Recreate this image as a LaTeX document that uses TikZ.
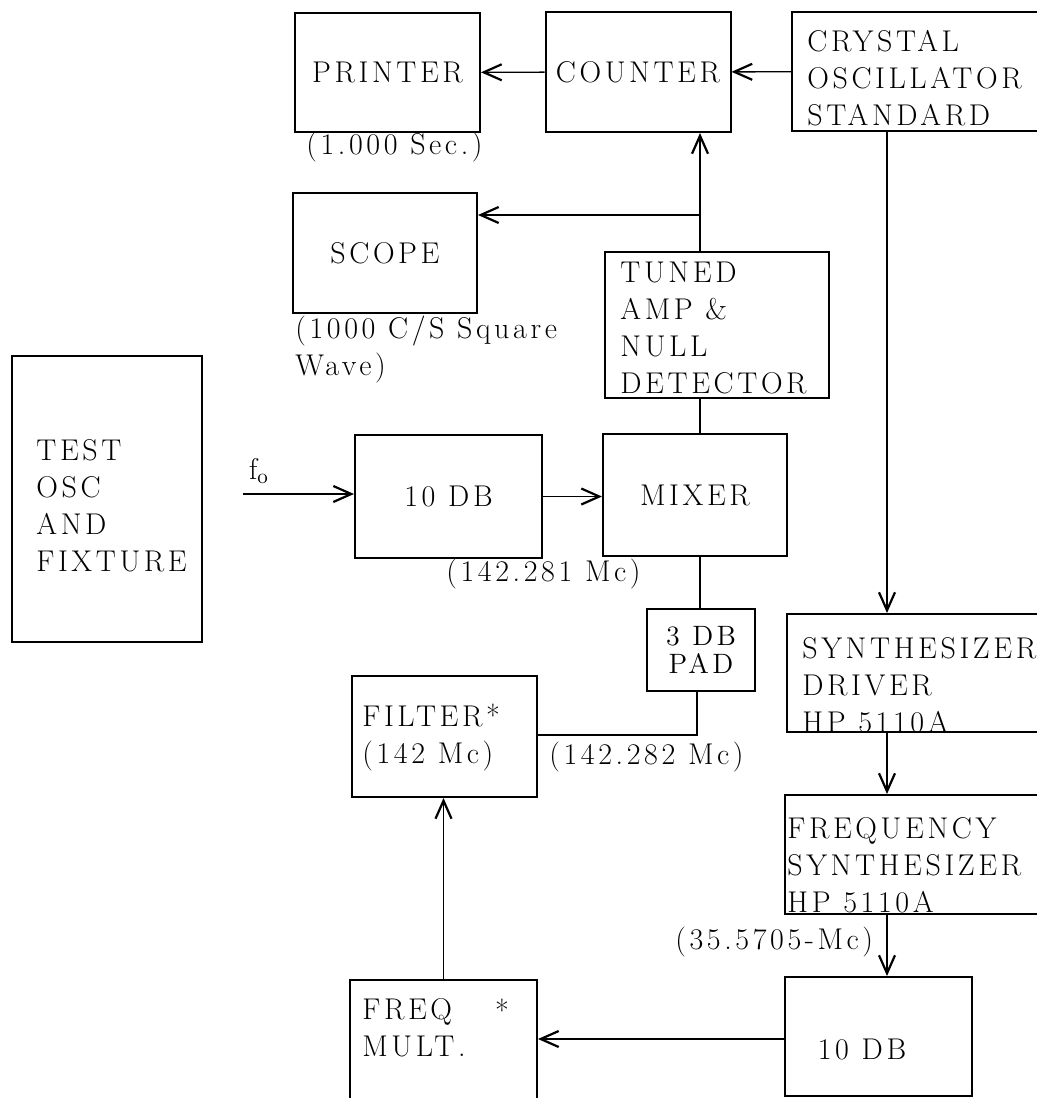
\documentclass[tikz,border=0pt]{standalone}
\usepackage{fontspec}
\setmainfont{Latin Modern Roman}[LetterSpace=12]
\usetikzlibrary{arrows.meta}

\begin{document}
\begin{tikzpicture}[x=0.5pt, y=-0.5pt,
		every node/.style={inner sep=0pt, font=\fontsize{15}{18.5}\selectfont},
		blk/.style={draw, line width=1pt},
		sig/.style={line width=0.7pt, -{Straight Barb[length=9pt,width=8pt,line width=1.1pt]}},
		wire/.style={line width=0.7pt}]
	\useasboundingbox (0,0) rectangle (1037,1098);

			% top row
			\node	(printer) at (387.5,72.5) [blk, minimum width=92.5pt, minimum height=59.5pt] {PRINTER};
			\node	(counter) at (638,72) [blk, minimum width=92.5pt, minimum height=60pt] {COUNTER};
			\node	(crystal) at (926,71.5) [blk, minimum width=134pt, minimum height=59.5pt] {};
			\node	(crystaltxt) at (807,78) [anchor=west, align=left] {CRYSTAL\\OSCILLATOR\\STANDARD};
			\node	(sec) at (306,147) [anchor=west] {(1.000 Sec.)};

			\node	(scope) at (385,253) [blk, minimum width=92pt, minimum height=60pt] {SCOPE};
			\node	(sqwave) at (295,350) [anchor=west, align=left] {(1000 C/S Square\\Wave)};
			\node	(tuned) at (717,325) [blk, minimum width=112pt, minimum height=73pt] {};
			\node	(tunedtxt) at (620,328) [anchor=west, align=left] {TUNED\\AMP \&\\NULL\\DETECTOR};

			% middle row
			\node	(test) at (107,499) [blk, minimum width=95pt, minimum height=143pt] {};
			\node	(testtxt) at (36,506) [anchor=west, align=left] {TEST\\OSC\\AND\\FIXTURE};
			\node	(fo) at (259,471) {f\textsubscript{o}};
			\coordinate (fostart) at (243,494);
			\node	(tenA) at (448.5,496.5) [blk, minimum width=93.5pt, minimum height=61.5pt] {10 DB};
			\node	(mixer) at (695,495) [blk, minimum width=92pt, minimum height=61pt] {MIXER};
			\node	(mcA) at (446,574) [anchor=west] {(142.281 Mc)};

			\node	(pad) at (701,650) [blk, minimum width=54pt, minimum height=41pt, align=center,
				font=\fontsize{14}{14}\selectfont] {3 DB\\PAD};
			\node	(filter) at (444.5,736.5) [blk, minimum width=92.5pt, minimum height=60.5pt] {};
			\node	(filtertxt) at (362,737.5) [anchor=west, align=left] {FILTER*\\(142 Mc)};
			\node	(mcB) at (549,757) [anchor=west] {(142.282 Mc)};

			% synthesizer chain
			\node	(driver) at (923.5,673) [blk, minimum width=136.5pt, minimum height=59pt] {};
			\node	(drivertxt) at (802,685) [anchor=west, align=left] {SYNTHESIZER\\DRIVER\\HP 5110A};
			\node	(synth) at (922.5,854.5) [blk, minimum width=137.5pt, minimum height=59.5pt] {};
			\node	(synthtxt) at (787,865) [anchor=west, align=left] {FREQUENCY\\SYNTHESIZER\\HP 5110A};
			\node	(mcC) at (675,942) [anchor=west] {(35.5705-Mc)};

			% bottom row
			\node	(tenB) at (878.5,1036.5) [blk, minimum width=93.5pt, minimum height=59.5pt] {};
			\node	(tenBtxt) at (862,1049) {10 DB};
			\node	(mult) at (443.5,1045) [blk, minimum width=93.5pt, minimum height=65pt] {};
			\node	(multtxt) at (362,1028) [anchor=west, align=left] {FREQ\\MULT.};
			\node	(multstar) at (502,1010) {*};

			\coordinate (tap) at (700,215);
			\coordinate (bend) at (697,735);
			\coordinate (xtal) at (887,0);
			\coordinate (low) at (0,1039);

			\draw
			(crystal) edge[sig] (counter)
			(counter) edge[sig] (printer)
			(tuned.north -| tap) edge[sig] (counter.south -| tap)
			(tap) edge[sig] (scope.east |- tap)
			(tuned.south -| tap) edge[wire] (mixer.north -| tap)
			(fostart) edge[sig] (tenA.west |- fostart)
			(tenA.east) edge[sig] (tenA.east -| mixer.west)
			(mixer.south -| tap) edge[wire] (pad.north -| tap)
			(crystal.south -| xtal) edge[sig] (driver.north -| xtal)
			(driver.south -| xtal) edge[sig] (synth.north -| xtal)
			(synth.south -| xtal) edge[sig] (tenB.north -| xtal)
			(tenB.west |- low) edge[sig] (mult.east |- low)
			(mult.north) edge[sig] (mult.north |- filter.south)
			;
			\draw[wire] (pad.south -| bend) -- (bend) -- (filter.east |- bend);
		\end{tikzpicture}
\end{document}
